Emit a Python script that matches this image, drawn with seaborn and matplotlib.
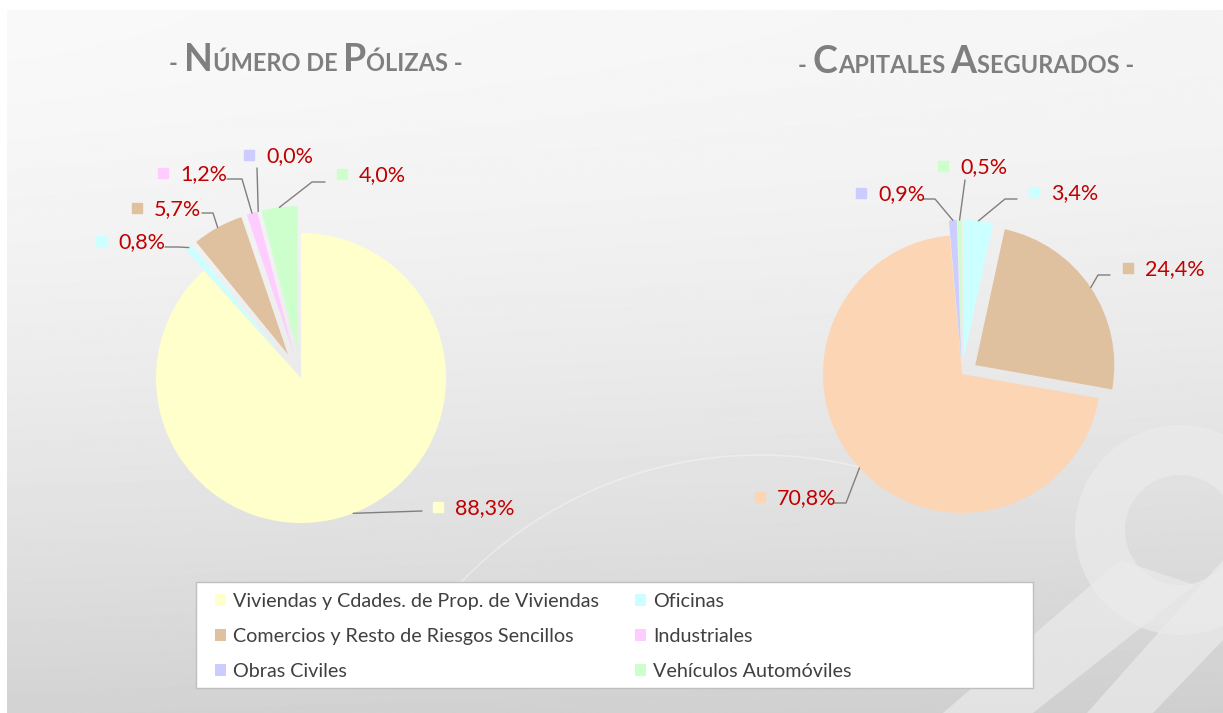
import numpy as np
import matplotlib.pyplot as plt
import seaborn as sns
from matplotlib.patches import Patch, Rectangle, Wedge, Polygon, Arc
from matplotlib.offsetbox import TextArea, HPacker, AnchoredOffsetbox

# ---- data ----
categorias = ["Viviendas y Cdades. de Prop. de Viviendas", "Oficinas",
              "Comercios y Resto de Riesgos Sencillos", "Industriales",
              "Obras Civiles", "Vehículos Automóviles"]
colores = ["#FFFFCC", "#CCFFFF", "#DFC09F", "#FFCCFF", "#CCCCFF", "#CCFFCC"]
polizas_pct = [88.3, 0.8, 5.7, 1.2, 0.0, 4.0]

capitales_cat = ["Oficinas", "Comercios y Resto de Riesgos Sencillos",
                 "Industriales", "Obras Civiles", "Vehículos Automóviles"]
capitales_col = ["#CCFFFF", "#DFC09F", "#FCD5B5", "#CCCCFF", "#CCFFCC"]
capitales_pct = [3.4, 24.4, 70.8, 0.9, 0.5]

W, H = 1223, 713
RED = "#C00000"
GREY = "#7F7F7F"

sns.set_style("white")
plt.rcParams["font.family"] = ["Lato", "DejaVu Sans"]

fig = plt.figure(figsize=(W / 100, H / 100), dpi=100)
ax = fig.add_axes([0, 0, 1, 1])
ax.axis("off")

# background gradient + decorative shapes
yy, xx = np.mgrid[0:H, 0:W]
bg = 0.975 - 0.15 * (yy / H) ** 1.6 - 0.015 * (xx / W)
ax.imshow(bg, cmap="gray", vmin=0, vmax=1, extent=(7, W, H, 10),
          zorder=0, interpolation="bilinear")
ax.add_patch(Polygon([(943, 713), (1033, 713), (1195, 585), (1120, 560)],
                     facecolor="#ebebeb", edgecolor="none", alpha=0.7, zorder=0.5))
ax.add_patch(Polygon([(1087, 713), (1153, 713), (1223, 640), (1223, 560)],
                     facecolor="#ebebeb", edgecolor="none", alpha=0.7, zorder=0.5))
ax.add_patch(Wedge((1180, 530), 105, 0, 360, width=50, facecolor="#ebebeb",
                   edgecolor="none", alpha=0.7, zorder=0.5))
ax.add_patch(Arc((760, 870), 830, 830, theta1=222, theta2=300,
                 color="white", lw=1.2, alpha=0.35, zorder=0.6))


def draw_pie(vals, cols, center, radius, explode):
    wedges, _ = ax.pie(vals, colors=sns.color_palette(cols), startangle=-90,
                       counterclock=True, center=center, radius=radius,
                       explode=explode, wedgeprops=dict(linewidth=0))
    for w in wedges:
        w.set_zorder(2)
    return wedges


def draw_labels(wedges, vals, cols, layout):
    for w, v, c, (sx, sy, ex, ey, stub) in zip(wedges, vals, cols, layout):
        tm = np.deg2rad((w.theta1 + w.theta2) / 2)
        px = w.center[0] + w.r * np.cos(tm)
        py = w.center[1] + w.r * np.sin(tm)
        ax.plot([px, ex + stub, ex], [py, ey, ey], color=GREY, lw=1, zorder=3)
        ax.plot([sx], [sy], marker="s", ms=7.8, color=c, ls="none", zorder=3)
        txt = f"{v:.1f}".replace(".", ",") + "%"
        ax.text(sx + 17, sy + 7, txt, color=RED, fontsize=15.5,
                ha="left", va="baseline", zorder=3)


w_left = draw_pie(polizas_pct, colores, (301, 378), 145, [0, 27, 27, 27, 27, 27])
w_right = draw_pie(capitales_pct, capitales_col, (962, 374), 139, [15, 16, 0, 15, 15])

# label layout: square x, y, leader end x, y, horizontal stub
lay_left = [(438, 507, 422, 511, 0), (101, 241, 165, 247, 13),
            (137, 208, 202, 213, 11), (163, 173, 227, 179, 15),
            (249, 155, 257, 168, 0), (342, 174, 325, 182, -13)]
lay_right = [(1034, 192, 1017, 199, -12), (1128, 268, 1110, 275, -12),
             (760, 497, 833, 503, 13), (861, 193, 923, 199, 12),
             (943, 166, 965, 180, 0)]
draw_labels(w_left, polizas_pct, colores, lay_left)
draw_labels(w_right, capitales_pct, capitales_col, lay_right)


def title(parts, xc, yb):
    kids = [TextArea(t, textprops=dict(fontsize=s, color=GREY, fontweight="bold"))
            for t, s in parts]
    box = HPacker(children=kids, align="baseline", pad=0, sep=0)
    ab = AnchoredOffsetbox(loc="lower center", child=box, frameon=False,
                           bbox_to_anchor=(xc / W, 1 - yb / H),
                           bbox_transform=fig.transFigure, pad=0, borderpad=0)
    ax.add_artist(ab)


big, small = 27, 17
title([("- ", small), ("N", big), ("ÚMERO DE ", small), ("P", big),
       ("ÓLIZAS -", small)], 316, 77)
title([("- ", small), ("C", big), ("APITALES ", small), ("A", big),
       ("SEGURADOS -", small)], 966, 79)

# legend
ax.add_patch(Rectangle((196, 582), 837, 106, facecolor="white",
                       edgecolor="#BFBFBF", lw=1, zorder=4))
handles = [Patch(facecolor=c, edgecolor="none") for c in colores]
order = [0, 2, 4, 1, 3, 5]
leg = ax.legend([handles[i] for i in order], [categorias[i] for i in order],
                ncol=2, loc="upper left", bbox_to_anchor=(215 / W, 1 - 593 / H),
                bbox_transform=fig.transFigure, frameon=False, fontsize=14.2,
                handlelength=0.55, handleheight=0.55, handletextpad=0.35,
                columnspacing=1.85, labelspacing=0.92, borderpad=0, borderaxespad=0)
leg.set_zorder(5)
for t in leg.get_texts():
    t.set_color("#404040")

ax.set_xlim(0, W)
ax.set_ylim(H, 0)
ax.set_aspect("equal")
fig.savefig("out.png", dpi=100, facecolor="white")
